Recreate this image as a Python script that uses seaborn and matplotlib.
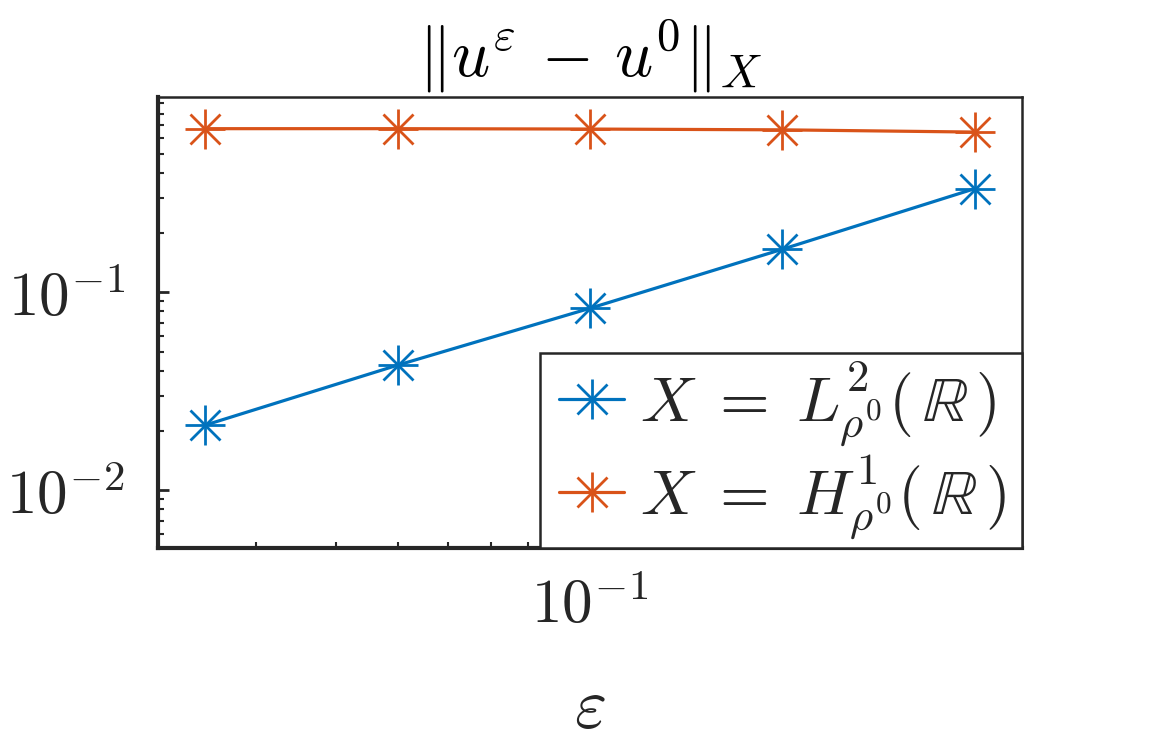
import numpy as np
import pandas as pd
import seaborn as sns
import matplotlib
matplotlib.use("Agg")
import matplotlib.pyplot as plt
from matplotlib.legend_handler import HandlerTuple
from matplotlib.ticker import LogLocator, NullFormatter

# ---- data ----
eps = [0.025, 0.05, 0.1, 0.2, 0.4]
err_L2 = [0.0213, 0.0428, 0.0830, 0.165, 0.334]
err_H1 = [0.671, 0.671, 0.668, 0.662, 0.645]
series_labels = [r"$X\;=\;L^2_{\rho^0}(\,\mathbb{R}\,)$", r"$X\;=\;H^1_{\rho^0}(\,\mathbb{R}\,)$"]
title_text = r"$\Vert u^{\varepsilon} \,-\, u^0\Vert_X$"
xlabel_text = r"$\varepsilon$"
xtick_vals = [0.1]
xtick_labels = [r"$10^{-1}$"]
ytick_vals = [0.01, 0.1]
ytick_labels = [r"$10^{-2}$", r"$10^{-1}$"]

colors = ["#0072BD", "#D95319"]

sns.set_theme(style="white")
plt.rcParams["mathtext.fontset"] = "cm"
plt.rcParams["font.family"] = ["DejaVu Serif"]

fig = plt.figure(figsize=(11.5, 7.5), dpi=100)
ax = fig.add_axes([158 / 1150, 1 - 548 / 750, (1022 - 158) / 1150, (548 - 97) / 750])

handles = []
for yv, c in zip([err_L2, err_H1], colors):
    df = pd.DataFrame({"eps": eps, "err": yv})
    sns.lineplot(data=df, x="eps", y="err", ax=ax, color=c, lw=2.3,
                 marker="+", markersize=29, markeredgewidth=2.0, markeredgecolor=c)
    l1 = ax.lines[-1]
    sns.lineplot(data=df, x="eps", y="err", ax=ax, color=c, ls="none",
                 marker="x", markersize=21, markeredgewidth=2.0, markeredgecolor=c)
    l2 = ax.lines[-1]
    handles.append((l1, l2))

ax.set_xscale("log")
ax.set_yscale("log")
ax.set_xlim(0.0211, 0.474)
ax.set_ylim(0.0051, 0.97)

ax.set_xticks(xtick_vals)
ax.set_xticklabels(xtick_labels)
ax.set_yticks(ytick_vals)
ax.set_yticklabels(ytick_labels)
ax.xaxis.set_minor_locator(LogLocator(base=10, subs=np.arange(2, 10)))
ax.yaxis.set_minor_locator(LogLocator(base=10, subs=np.arange(2, 10)))
ax.xaxis.set_minor_formatter(NullFormatter())
ax.yaxis.set_minor_formatter(NullFormatter())

ax.tick_params(axis="both", which="both", direction="in", colors="#262626",
               labelsize=44, top=False, right=False, left=True, bottom=True)
ax.tick_params(axis="both", which="major", length=8, width=2)
ax.tick_params(axis="both", which="minor", length=4, width=1.5)
ax.tick_params(axis="y", which="major", pad=24)
ax.tick_params(axis="x", which="major", pad=20)

for s in ["left", "bottom"]:
    ax.spines[s].set_linewidth(3)
    ax.spines[s].set_color("#262626")
for s in ["top", "right"]:
    ax.spines[s].set_linewidth(1.8)
    ax.spines[s].set_color("#262626")

ax.set_title(title_text, fontsize=48, pad=15, color="#000000")
ax.set_xlabel(xlabel_text, fontsize=50, labelpad=28)
ax.set_ylabel("")

x0 = (540 - 158) / 864
leg = ax.legend(handles, series_labels,
                handler_map={tuple: HandlerTuple(ndivide=1, pad=0, xpad=0.2)},
                loc="lower left", bbox_to_anchor=(x0, 0.0, 1.0 - x0, 0.4),
                mode="expand", borderaxespad=0,
                fontsize=46, frameon=True, fancybox=False, handlelength=1.22,
                handletextpad=0.25, borderpad=0.1, labelspacing=0.05)
leg.get_frame().set_edgecolor("#262626")
leg.get_frame().set_linewidth(1.8)
leg.get_frame().set_alpha(1)

fig.savefig("out.png", dpi=100, facecolor="white")
